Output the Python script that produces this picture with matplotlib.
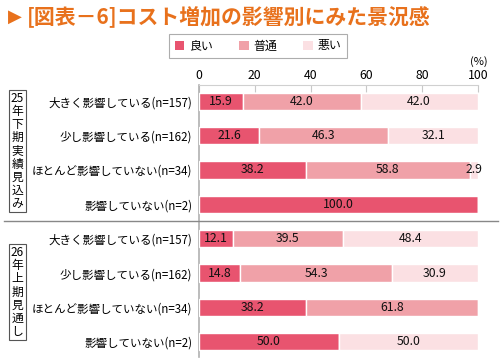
import matplotlib
matplotlib.use("Agg")
import matplotlib.pyplot as plt
from matplotlib.patches import Patch
import numpy as np

plt.rcParams["font.family"] = ["Noto Sans CJK JP", "DejaVu Sans"]

TITLE = "[図表－6]コスト増加の影響別にみた景況感"
SERIES = ["良い", "普通", "悪い"]
COLORS = ["#E8546F", "#F0A1A8", "#FBE0E3"]

labels = ["大きく影響している(n=157)", "少し影響している(n=162)",
          "ほとんど影響していない(n=34)", "影響していない(n=2)",
          "大きく影響している(n=157)", "少し影響している(n=162)",
          "ほとんど影響していない(n=34)", "影響していない(n=2)"]
good = [15.9, 21.6, 38.2, 100.0, 12.1, 14.8, 38.2, 50.0]
normal = [42.0, 46.3, 58.8, 0.0, 39.5, 54.3, 61.8, 0.0]
bad = [42.0, 32.1, 2.9, 0.0, 48.4, 30.9, 0.0, 50.0]
groups = ["25\n年\n下\n期\n実\n績\n見\n込\nみ", "26\n年\n上\n期\n見\n通\nし"]

W, H = 500, 360
fig = plt.figure(figsize=(W / 100, H / 100), dpi=100)
ax = fig.add_axes([199 / W, 1 - 357 / H, 279 / W, (357 - 85) / H])

y = np.arange(len(labels))
left = np.zeros(len(labels))
for vals, col in zip([good, normal, bad], COLORS):
    vals = np.array(vals)
    ax.barh(y, vals, left=left, height=0.5, color=col, edgecolor="white",
            linewidth=1.0, zorder=3)
    for yi, (l, v) in enumerate(zip(left, vals)):
        if v > 0:
            ax.text(l + v / 2, yi, f"{v:.1f}", ha="center", va="center",
                    fontsize=8.8, color="#111111", zorder=4)
    left += vals

ax.set_xlim(0, 100)
ax.set_ylim(7.44, -0.47)
ax.set_yticks(y)
ax.set_yticklabels(labels, fontsize=8.3)
ax.tick_params(axis="y", length=0, pad=5)
ax.xaxis.tick_top()
ax.set_xticks([0, 20, 40, 60, 80, 100])
ax.tick_params(axis="x", direction="in", length=5, color="#C8C8C8",
               labelsize=8.8, pad=2)
for s in ["right", "bottom"]:
    ax.spines[s].set_visible(False)
ax.spines["top"].set_color("#D0D0D0")
ax.spines["left"].set_color("#B0B0B0")
ax.spines["left"].set_linewidth(1.2)

fig.text(488 / W, 1 - 62 / H, "(%)", ha="right", va="center", fontsize=8)

# separator between the two periods
fig.add_artist(plt.Line2D([4 / W, 498 / W], [1 - 221 / H, 1 - 221 / H],
                          color="#888888", lw=1))

# vertical period labels
for txt, yc in zip(groups, [151, 292]):
    fig.text(17.5 / W, 1 - yc / H, txt, ha="center", va="center",
             fontsize=8.5, linespacing=1.02,
             bbox=dict(boxstyle="square,pad=0.15", fc="white",
                       ec="#555555", lw=0.8))

# title
fig.text(8 / W, 1 - 17 / H, "▶", color="#E8711C", fontsize=13,
         ha="left", va="center", family=["DejaVu Sans"])
fig.text(27 / W, 1 - 17 / H, TITLE, color="#E8711C", fontsize=15,
         ha="left", va="center", fontweight="bold")

handles = [Patch(facecolor=c, edgecolor="none", label=s)
           for c, s in zip(COLORS, SERIES)]
leg = fig.legend(handles=handles, loc="center", ncol=3,
                 bbox_to_anchor=(258 / W, 1 - 46 / H), fontsize=8.6,
                 frameon=True, fancybox=False, handlelength=0.8,
                 handleheight=0.8, handletextpad=0.4, columnspacing=2.2,
                 borderpad=0.45)
leg.get_frame().set_edgecolor("#999999")
leg.get_frame().set_linewidth(0.8)

fig.savefig("out.png", dpi=100)
